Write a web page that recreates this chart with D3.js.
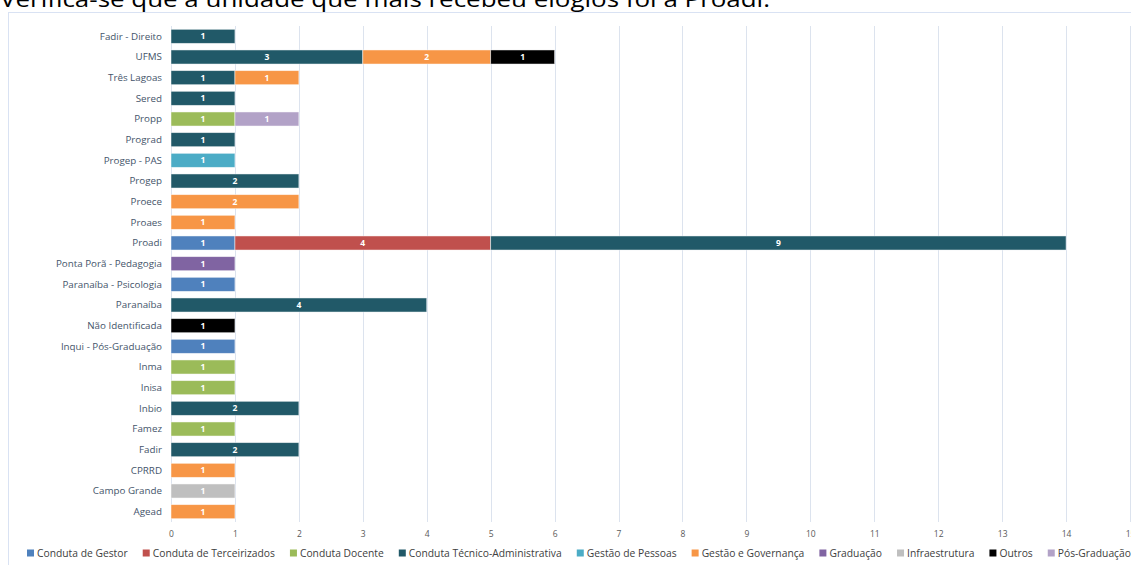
<!DOCTYPE html>
<html><head><meta charset="utf-8">
<script src="https://cdn.jsdelivr.net/npm/d3@7"></script>
<style>body{margin:0;background:#fff;overflow:hidden}svg{display:block}</style>
</head><body>
<svg id="c" width="1131" height="565"></svg>
<script>
const title = "Verifica-se que a unidade que mais recebeu elogios foi a Proadi.";
const categories = ["Fadir -  Direito","UFMS","Três Lagoas","Sered","Propp","Prograd","Progep - PAS","Progep","Proece","Proaes","Proadi","Ponta Porã - Pedagogia","Paranaíba - Psicologia","Paranaíba","Não Identificada","Inqui - Pós-Graduação","Inma","Inisa","Inbio","Famez","Fadir","CPRRD","Campo Grande","Agead"];
const seriesNames = ["Conduta de Gestor","Conduta de Terceirizados","Conduta Docente","Conduta Técnico-Administrativa","Gestão de Pessoas","Gestão e Governança","Graduação","Infraestrutura","Outros","Pós-Graduação"];
const seriesColors = ["#4F81BD","#C0504D","#9BBB59","#215968","#4BACC6","#F79646","#8064A2","#BFBFBF","#000000","#B2A2C7"];
// values per series, aligned with categories (0 = none)
const condutaGestor        = [0,0,0,0,0,0,0,0,0,0,1,0,1,0,0,1,0,0,0,0,0,0,0,0];
const condutaTerceirizados = [0,0,0,0,0,0,0,0,0,0,4,0,0,0,0,0,0,0,0,0,0,0,0,0];
const condutaDocente       = [0,0,0,0,1,0,0,0,0,0,0,0,0,0,0,0,1,1,0,1,0,0,0,0];
const condutaTecnico       = [1,3,1,1,0,1,0,2,0,0,9,0,0,4,0,0,0,0,2,0,2,0,0,0];
const gestaoPessoas        = [0,0,0,0,0,0,1,0,0,0,0,0,0,0,0,0,0,0,0,0,0,0,0,0];
const gestaoGovernanca     = [0,2,1,0,0,0,0,0,2,1,0,0,0,0,0,0,0,0,0,0,0,1,0,1];
const graduacao            = [0,0,0,0,0,0,0,0,0,0,0,1,0,0,0,0,0,0,0,0,0,0,0,0];
const infraestrutura       = [0,0,0,0,0,0,0,0,0,0,0,0,0,0,0,0,0,0,0,0,0,0,1,0];
const outros               = [0,1,0,0,0,0,0,0,0,0,0,0,0,0,1,0,0,0,0,0,0,0,0,0];
const posGraduacao         = [0,0,0,0,1,0,0,0,0,0,0,0,0,0,0,0,0,0,0,0,0,0,0,0];
const xTicks = [0,1,2,3,4,5,6,7,8,9,10,11,12,13,14,15];

const seriesValues = [condutaGestor,condutaTerceirizados,condutaDocente,condutaTecnico,gestaoPessoas,gestaoGovernanca,graduacao,infraestrutura,outros,posGraduacao];
const table = categories.map((c,i)=>{const r={cat:c};seriesNames.forEach((s,j)=>r[s]=seriesValues[j][i]);return r;});
const stacked = d3.stack().keys(seriesNames)(table);

const svg = d3.select("#c");
const FONT = "'Open Sans', 'Noto Sans', sans-serif";

// title (cut at top)
svg.append("text").attr("x",0).attr("y",7).attr("font-family",FONT).attr("font-size",21)
  .attr("fill","#000").attr("textLength",770).attr("lengthAdjust","spacingAndGlyphs").text(title);

// frame
svg.append("rect").attr("x",8.5).attr("y",12.5).attr("width",1140).attr("height",600)
  .attr("fill","none").attr("stroke","#D9E2F3").attr("stroke-width",1);

const x = d3.scaleLinear().domain([0,15]).range([171,1130]);
const y = d3.scaleBand().domain(categories).range([26,522]).paddingInner(0.32).paddingOuter(0.16);

// gridlines
svg.append("g").selectAll("line").data(xTicks).join("line")
  .attr("x1",d=>Math.round(x(d))+0.5).attr("x2",d=>Math.round(x(d))+0.5)
  .attr("y1",26).attr("y2",522).attr("stroke","#DCE3EE").attr("stroke-width",1);

// x axis tick labels
const xAxis = d3.axisBottom(x).tickValues(xTicks).tickSize(0).tickPadding(0).tickFormat(d3.format("d"));
const gx = svg.append("g").attr("transform","translate(0,531)").call(xAxis);
gx.select(".domain").remove();
gx.selectAll("text").attr("font-family",FONT).attr("font-size",8.5).attr("fill","#595959");

// y axis labels
const yAxis = d3.axisLeft(y).tickSize(0).tickPadding(0);
const gy = svg.append("g").attr("transform","translate(162,0)").call(yAxis);
gy.select(".domain").remove();
gy.selectAll("text").attr("font-family",FONT).attr("font-size",9.8).attr("fill","#44546A").attr("dy","0.35em");

// bars
const layers = svg.append("g").selectAll("g").data(stacked).join("g")
  .attr("fill",(d,i)=>seriesColors[i]);
layers.selectAll("rect").data(d=>d.filter(p=>p[1]-p[0]>0)).join("rect")
  .attr("x",d=>x(d[0])).attr("width",d=>x(d[1])-x(d[0]))
  .attr("y",d=>y(d.data.cat)).attr("height",y.bandwidth())
  .attr("stroke","#ffffff").attr("stroke-opacity",0.6).attr("stroke-width",0.8);

// value labels
const lab = svg.append("g");
stacked.forEach((layer)=>{
  layer.forEach(p=>{
    const v=p[1]-p[0];
    if(v>0){
      lab.append("text").attr("x",(x(p[0])+x(p[1]))/2).attr("y",y(p.data.cat)+y.bandwidth()/2)
        .attr("dy","0.35em").attr("text-anchor","middle").attr("font-family",FONT)
        .attr("font-size",8.5).attr("font-weight","bold").attr("fill","#fff").text(v);
    }
  });
});

// legend: fit between x=27 and x=1131
const lg = svg.append("g").attr("transform","translate(0,553)");
const probe = lg.append("text").attr("font-family",FONT).attr("font-size",11);
const widths = seriesNames.map(s=>{probe.text(s);return probe.node().getComputedTextLength();});
probe.remove();
const gapSq = 3, sq = 7, gapItem = 15;
const fixed = seriesNames.length*(sq+gapSq) + (seriesNames.length-1)*gapItem;
const avail = 1131 - 27 - fixed;
const k = avail / d3.sum(widths);
const fs = 11*k;
let cx = 27;
seriesNames.forEach((s,i)=>{
  const g = lg.append("g").attr("transform",`translate(${cx},0)`);
  g.append("rect").attr("x",0).attr("y",-3.5).attr("width",sq).attr("height",sq).attr("fill",seriesColors[i]);
  g.append("text").attr("x",sq+gapSq).attr("y",0).attr("dy","0.35em").attr("font-family",FONT)
    .attr("font-size",fs).attr("fill","#404040").text(s);
  cx += sq + gapSq + widths[i]*k + gapItem;
});
</script>
</body></html>
